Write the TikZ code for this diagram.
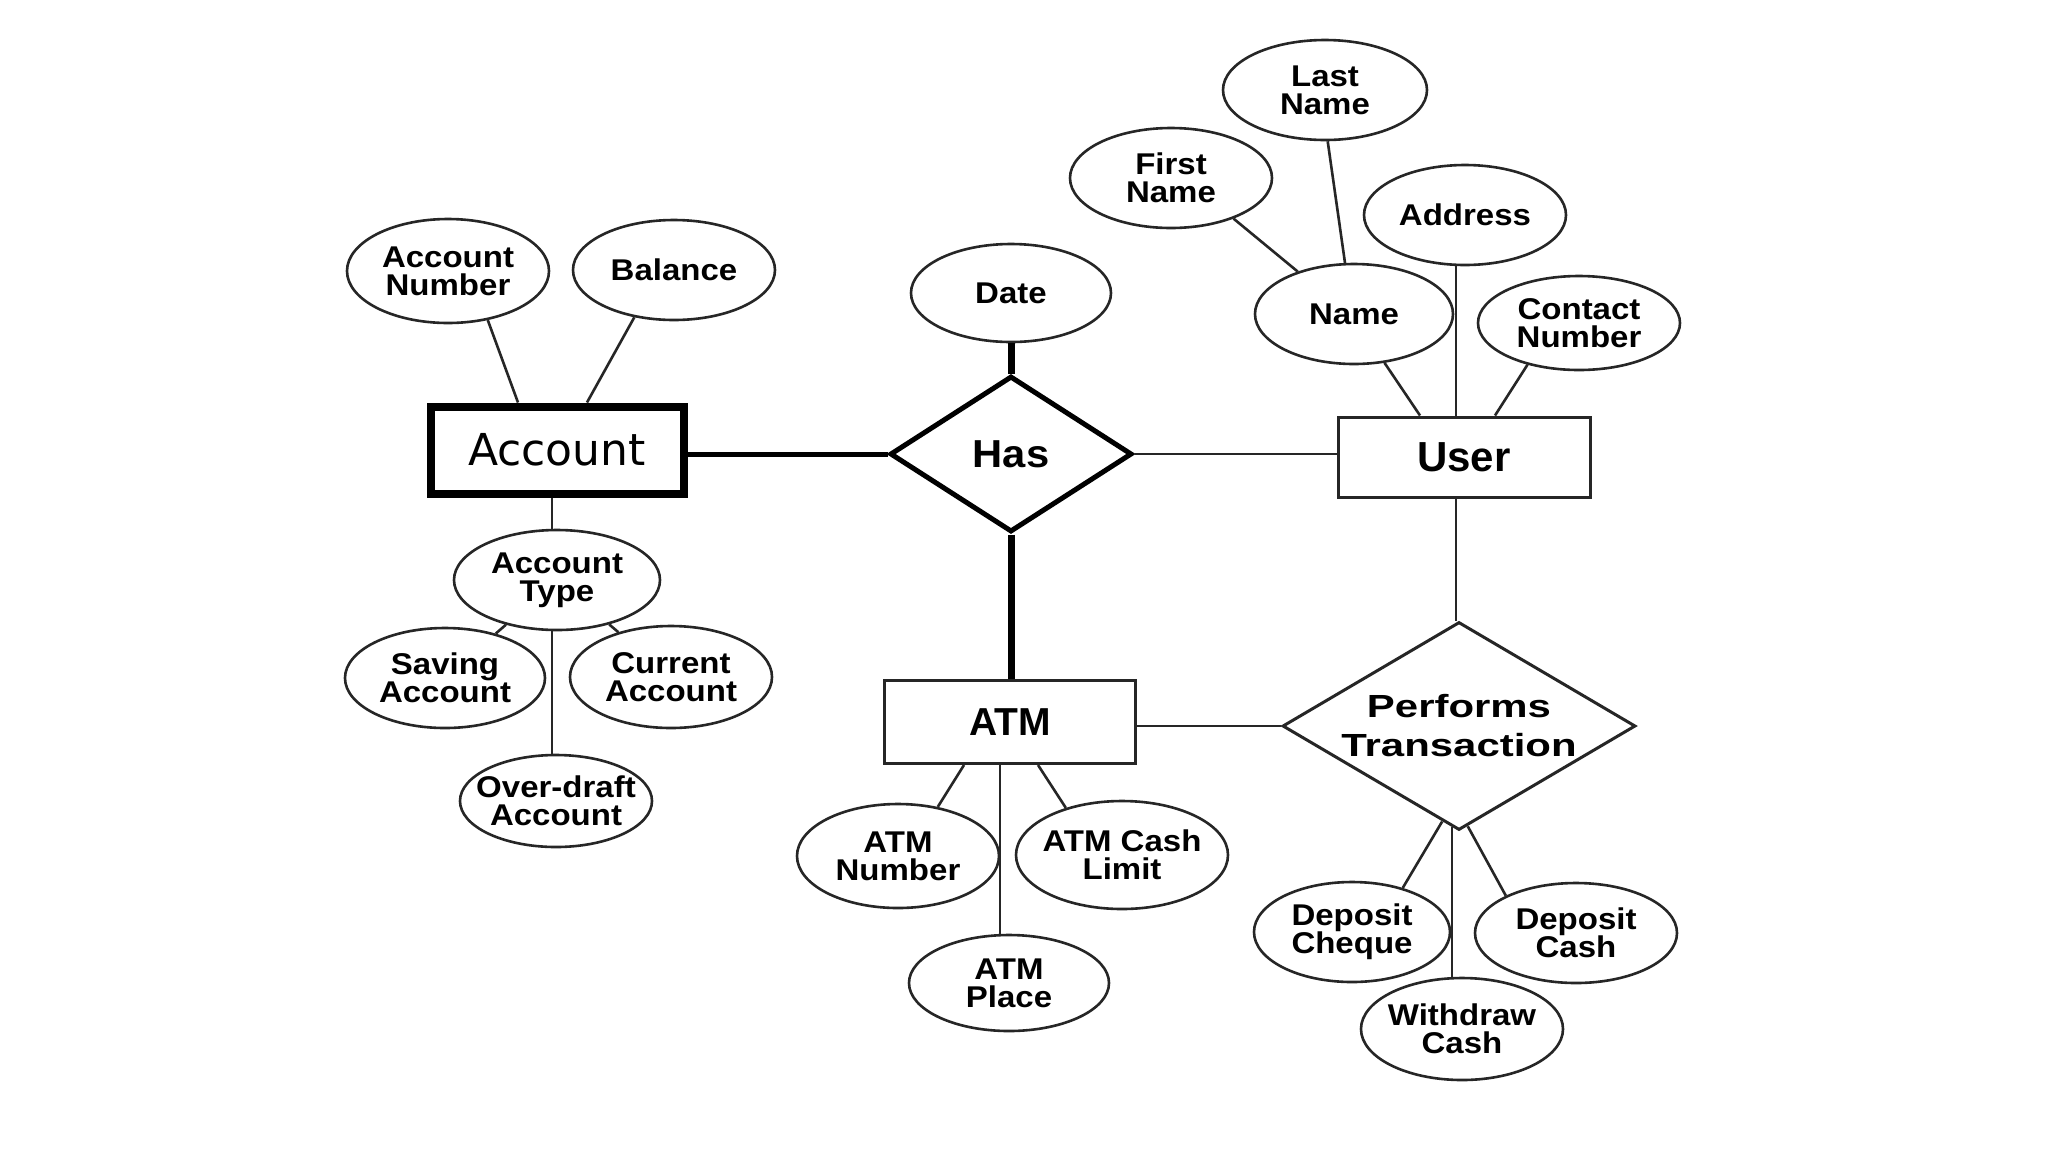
\documentclass[tikz,border=0pt]{standalone}
\usepackage{fontspec}
\usetikzlibrary{shapes.geometric}
\newfontfamily\attrfont[FakeStretch=1.1]{Liberation Sans}
\newfontfamily\relfont[FakeStretch=1.07]{Liberation Sans}
\newfontfamily\perffont[FakeStretch=1.31]{Liberation Sans}
\newfontfamily\accfont{DejaVu Sans}
\newfontfamily\entfont{Liberation Sans}
\tikzset{
  sz/.style 2 args={minimum width=#1pt, minimum height=#2pt},
  attr/.style={ellipse, draw=black!85, line width=2.6pt, inner xsep=-20pt, inner ysep=0pt,
    align=center, font=\attrfont\bfseries\fontsize{30}{28}\selectfont, text=black},
  entbox/.style={rectangle, draw=black!85, line width=3pt, inner sep=0pt,
    font=\entfont\bfseries\fontsize{42}{44}\selectfont, text=black},
  relbox/.style={diamond, draw=black!85, line width=3pt, inner sep=0pt, align=center, text=black},
  conn/.style={draw=black!85, line width=2.6pt},
  heavy/.style={draw=black, line width=7pt},
}
\begin{document}
\begin{tikzpicture}[x=1pt, y=-1pt]
\fill[white] (0,0) rectangle (2048,1152);
\useasboundingbox (0,0) rectangle (2048,1152);

% Account side
\node[attr, sz={202}{104}] (AccNum) at (448,271) {Account\\Number};
\node[attr, sz={202}{100}] (Balance) at (674,270) {Balance};
\node[entbox, line width=8pt, draw=black, minimum width=253pt, minimum height=87pt,
      font=\accfont\fontsize{44}{48}\selectfont] (Account) at (557,450) {Account};
\node[attr, sz={206}{100}] (AccType) at (557,580) {Account\\Type};
\node[attr, sz={200}{100}] (Saving) at (445,678) {Saving\\Account};
\node[attr, sz={202}{102}] (Current) at (671,677) {Current\\Account};
\node[attr, sz={192}{92}] (Overdraft) at (556,801) {Over-draft\\Account};

% Has
\node[attr, sz={200}{98}] (Date) at (1011,293) {Date};
\node[relbox, line width=5pt, draw=black, sz={242}{156}, aspect=1.55,
      font=\relfont\bfseries\fontsize{39}{42}\selectfont] (Has) at (1011,454) {Has};

% User side
\node[entbox, minimum width=252pt, minimum height=80pt] (User) at (1464,457) {User};
\node[attr, sz={198}{100}] (Name) at (1354,314) {Name};
\node[attr, sz={202}{100}] (FirstName) at (1171,178) {First\\Name};
\node[attr, sz={204}{100}] (LastName) at (1325,90) {Last\\Name};
\node[attr, sz={202}{100}] (Address) at (1465,215) {Address};
\node[attr, sz={202}{94}] (Contact) at (1579,323) {Contact\\Number};

% ATM side
\node[entbox, minimum width=251pt, minimum height=83pt,
      font=\entfont\bfseries\fontsize{39}{42}\selectfont] (ATM) at (1010,722) {ATM};
\node[attr, sz={202}{104}] (ATMNum) at (898,856) {ATM\\Number};
\node[attr, sz={212}{108}] (ATMCash) at (1122,855) {ATM Cash\\Limit};
\node[attr, sz={200}{96}] (ATMPlace) at (1009,983) {ATM\\Place};

% Performs Transaction
\node[relbox, sz={353}{208}, aspect=1.7,
      font=\perffont\bfseries\fontsize{32}{39}\selectfont] (Performs) at (1459,726) {Performs\\Transaction};
\node[attr, sz={196}{100}] (DepCheque) at (1352,932) {Deposit\\Cheque};
\node[attr, sz={202}{100}] (DepCash) at (1576,933) {Deposit\\Cash};
\node[attr, sz={202}{102}] (Withdraw) at (1462,1029) {Withdraw\\Cash};

% connectors
\draw[conn] (AccNum.-51) -- ([xshift=-39pt]Account.north);
\draw[conn] (Balance.-130) -- ([xshift=30pt]Account.north);
\draw[conn] ([xshift=-5pt]Account.south) -- ([xshift=-5pt]Account.south |- AccType.north);
\draw[conn] (AccType) -- (Saving);
\draw[conn] (AccType) -- (Current);
\draw[conn] ([xshift=-5pt]AccType.south) -- ([xshift=-5pt]AccType.south |- Overdraft.north);
\draw[draw=black, line width=5pt] (Account.east |- Has.west) -- (Has.west);
\draw[heavy] (Date.south) -- (Has.north);
\draw[conn] (Has.east) -- (Has.east -| User.west);
\draw[heavy] (Has.south) -- (Has.south |- ATM.north);
\draw[conn] (ATM.east |- Performs.west) -- (Performs.west);
\draw[conn] ([xshift=-8pt]User.south) -- ([xshift=-8pt]User.south |- Performs.north);
\draw[conn] ([xshift=-8pt]User.north) -- ([xshift=-8pt]User.north |- Address.south);
\draw[conn] (Name.-58) -- ([xshift=-44pt]User.north);
\draw[conn] (Contact.-141) -- ([xshift=31pt]User.north);
\draw[conn] (FirstName.-33) -- (Name.143);
\draw[conn] (LastName.-87) -- (Name.100);
\draw[conn] ([xshift=-46pt]ATM.south) -- (ATMNum.51);
\draw[conn] ([xshift=28pt]ATM.south) -- (ATMCash.140);
\draw[conn] ([xshift=-10pt]ATM.south) -- ([xshift=-10pt]ATM.south |- ATMPlace.north);
\draw[conn] (Performs.-100) -- (DepCheque.41);
\draw[conn] (Performs.-94) -- (Performs.-94 |- Withdraw.north);
\draw[conn] (Performs.-85) -- (DepCash.152);
\end{tikzpicture}
\end{document}
